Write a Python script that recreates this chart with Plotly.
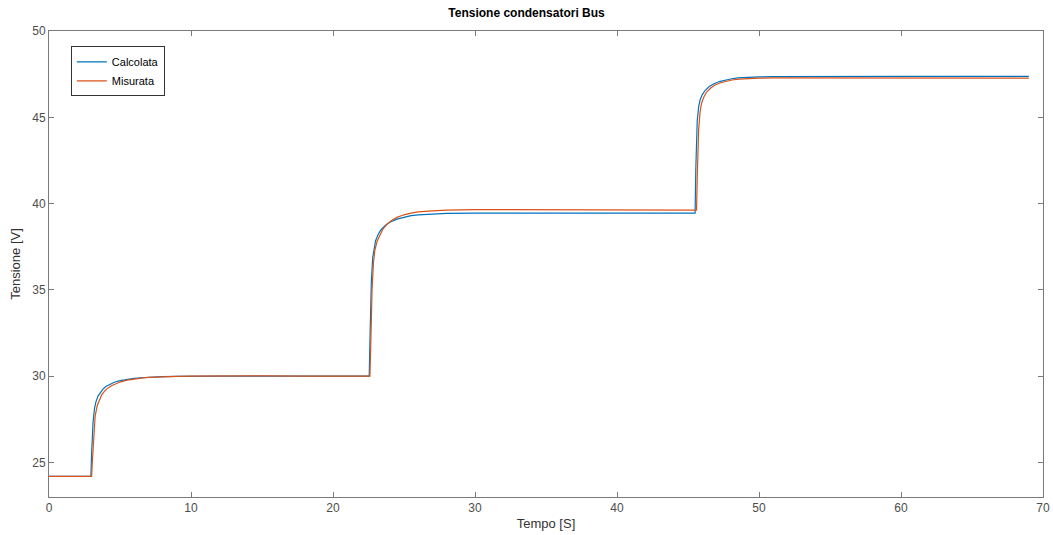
import plotly.graph_objects as go

title_text = "Tensione condensatori Bus"
x_label = "Tempo [S]"
y_label = "Tensione [V]"
x_ticks = [0, 10, 20, 30, 40, 50, 60, 70]
y_ticks = [25, 30, 35, 40, 45, 50]

calc_t = [0, 2.95, 3.0, 3.1, 3.2, 3.3, 3.45, 3.6, 3.8, 4.0, 4.3, 4.6, 5.0, 5.5, 6.0, 6.5, 7.0, 8.0, 9.0, 10.0, 12.0, 15.0, 18.0, 22.55,
          22.6, 22.7, 22.8, 22.9, 23.0, 23.2, 23.4, 23.7, 24.0, 24.5, 25.0, 25.5, 26.0, 27.0, 28.0, 30.0, 35.0, 40.0, 45.5,
          45.55, 45.65, 45.75, 45.85, 46.0, 46.2, 46.5, 46.8, 47.2, 47.6, 48.0, 48.5, 49.0, 50.0, 51.0, 53.0, 56.0, 60.0, 65.0, 69.0]
calc_v = [24.2, 24.2, 25.5, 27.3, 28.1, 28.5, 28.85, 29.05, 29.25, 29.4, 29.55, 29.65, 29.74, 29.82, 29.87, 29.91, 29.94, 29.97, 29.99, 30.0, 30.0, 30.0, 30.0, 30.0,
          32.0, 35.5, 36.9, 37.5, 37.85, 38.25, 38.5, 38.75, 38.92, 39.1, 39.22, 39.3, 39.35, 39.4, 39.43, 39.45, 39.45, 39.45, 39.45,
          42.0, 44.8, 45.6, 46.0, 46.3, 46.55, 46.78, 46.93, 47.07, 47.16, 47.22, 47.28, 47.31, 47.34, 47.36, 47.37, 47.37, 47.37, 47.37, 47.37]

meas_t = [0, 3.0, 3.05, 3.15, 3.25, 3.4, 3.55, 3.7, 3.9, 4.1, 4.4, 4.7, 5.0, 5.5, 6.0, 6.5, 7.0, 8.0, 9.0, 10.0, 12.0, 15.0, 18.0, 22.6,
          22.65, 22.75, 22.85, 22.95, 23.1, 23.3, 23.5, 23.8, 24.1, 24.5, 25.0, 25.5, 26.0, 27.0, 28.0, 30.0, 35.0, 40.0, 45.6,
          45.65, 45.75, 45.85, 45.95, 46.1, 46.3, 46.6, 46.9, 47.3, 47.7, 48.1, 48.6, 49.1, 50.0, 51.0, 53.0, 56.0, 60.0, 65.0, 69.0]
meas_v = [24.2, 24.2, 25.0, 26.8, 27.7, 28.3, 28.65, 28.9, 29.12, 29.28, 29.45, 29.57, 29.66, 29.77, 29.84, 29.89, 29.93, 29.97, 29.99, 30.0, 30.02, 30.02, 30.0, 30.0,
          31.5, 35.0, 36.6, 37.3, 37.8, 38.2, 38.5, 38.8, 39.0, 39.2, 39.35, 39.45, 39.52, 39.58, 39.62, 39.65, 39.65, 39.65, 39.62,
          41.5, 44.3, 45.3, 45.8, 46.15, 46.45, 46.7, 46.87, 47.0, 47.1, 47.16, 47.21, 47.24, 47.27, 47.28, 47.28, 47.28, 47.27, 47.27, 47.27]

fig = go.Figure()
fig.add_trace(go.Scatter(x=calc_t, y=calc_v, mode="lines", name="Calcolata",
                         line=dict(color="#0072BD", width=1.2)))
fig.add_trace(go.Scatter(x=meas_t, y=meas_v, mode="lines", name="Misurata",
                         line=dict(color="#D95319", width=1.2)))

axis_common = dict(
    showgrid=False, zeroline=False, showline=True, mirror="allticks", automargin=False,
    linecolor="#7a7a7a", linewidth=1, ticks="inside", ticklen=5, tickcolor="#7a7a7a",
    tickfont=dict(family="Liberation Sans, Arial, sans-serif", size=12, color="#4d4d4d"),
)

fig.update_layout(
    width=1053, height=535,
    margin=dict(l=49, r=10, t=31, b=38, autoexpand=False),
    paper_bgcolor="white", plot_bgcolor="white",
    title=dict(text="<b>" + title_text + "</b>", x=0.5, xanchor="center", y=0.977, yanchor="middle",
               font=dict(family="Liberation Sans, Arial, sans-serif", size=12, color="black")),
    xaxis=dict(range=[0, 70], tickvals=x_ticks,
               title=dict(text=x_label, standoff=4,
                          font=dict(family="Liberation Sans, Arial, sans-serif", size=13, color="#333333")),
               **axis_common),
    yaxis=dict(range=[23, 50], tickvals=y_ticks,
               title=dict(text=y_label, standoff=8,
                          font=dict(family="Liberation Sans, Arial, sans-serif", size=13, color="#333333")),
               **axis_common),
    legend=dict(x=0.022, y=0.967, xanchor="left", yanchor="top",
                bgcolor="white", bordercolor="#333333", borderwidth=1,
                font=dict(family="Liberation Sans, Arial, sans-serif", size=11, color="black"),
                tracegroupgap=0, itemwidth=30, entrywidth=80),
    showlegend=True,
)

fig.write_html("out.html")
